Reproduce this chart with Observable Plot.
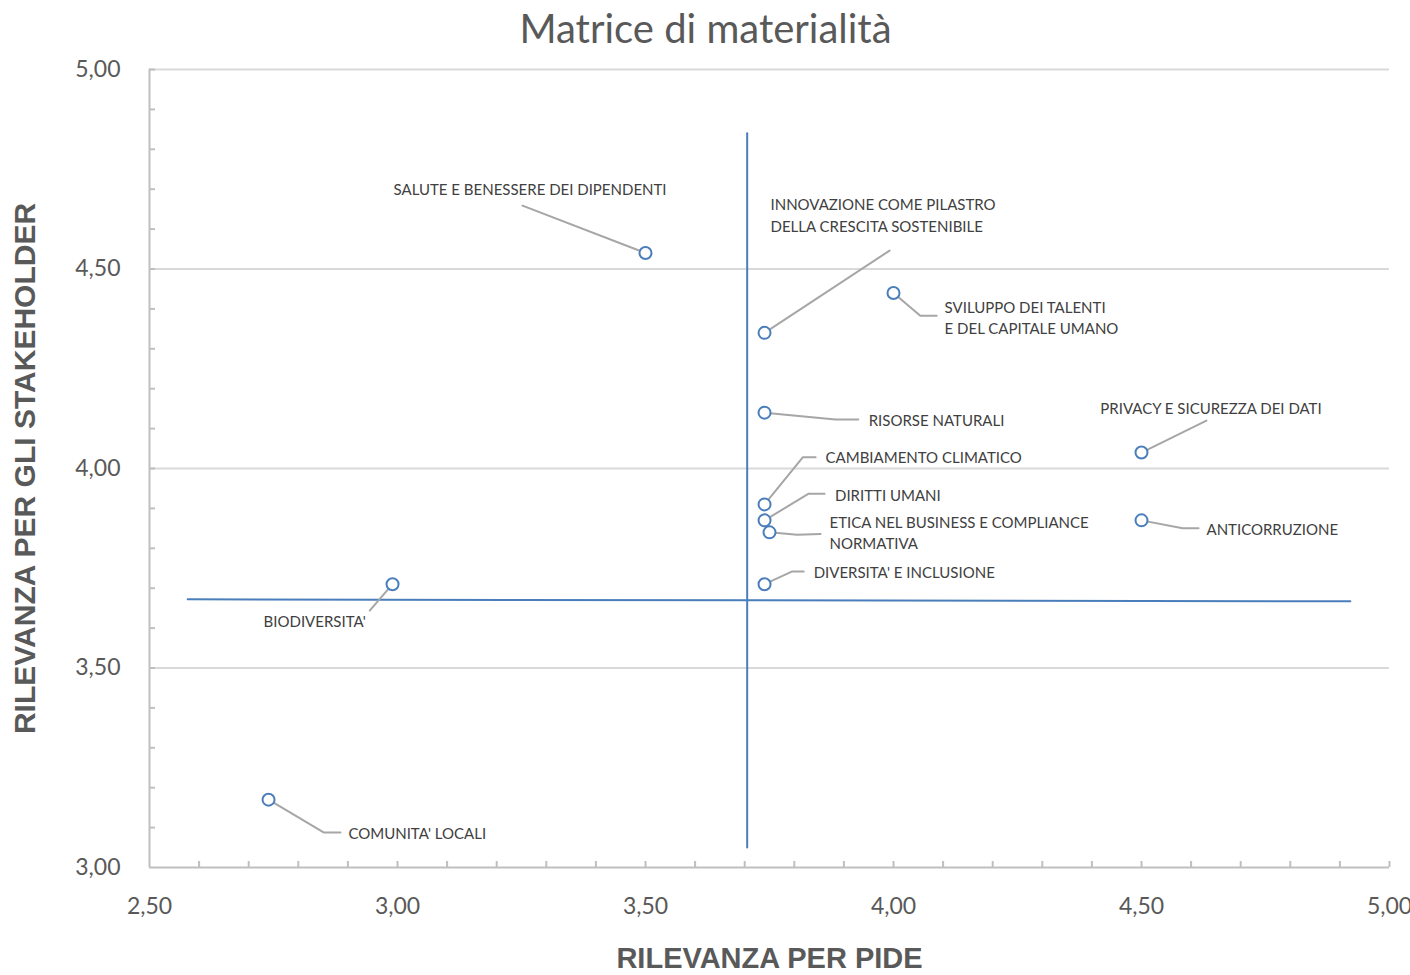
<!DOCTYPE html>
<html>
<head>
<meta charset="utf-8">
<script src="https://cdn.jsdelivr.net/npm/d3@7"></script>
<script src="https://cdn.jsdelivr.net/npm/@observablehq/plot@0.6"></script>
<style>
  html, body { margin: 0; padding: 0; background: #fff; overflow: hidden; }
  #chart { width: 1410px; height: 975px; overflow: hidden; }
</style>
</head>
<body>
<div id="chart"></div>
<script>
// ---- data ----
const topics = [
  "SALUTE E BENESSERE DEI DIPENDENTI",
  "INNOVAZIONE COME PILASTRO\nDELLA CRESCITA SOSTENIBILE",
  "SVILUPPO DEI TALENTI\nE DEL CAPITALE UMANO",
  "RISORSE NATURALI",
  "PRIVACY E SICUREZZA DEI DATI",
  "CAMBIAMENTO CLIMATICO",
  "DIRITTI UMANI",
  "ETICA NEL BUSINESS E COMPLIANCE\nNORMATIVA",
  "ANTICORRUZIONE",
  "DIVERSITA' E INCLUSIONE",
  "BIODIVERSITA'",
  "COMUNITA' LOCALI"
];
const rilevanzaPIDE = [3.50, 3.74, 4.00, 3.74, 4.50, 3.74, 3.74, 3.75, 4.50, 3.74, 2.99, 2.74];
const rilevanzaStakeholder = [4.54, 4.34, 4.44, 4.14, 4.04, 3.91, 3.87, 3.84, 3.87, 3.71, 3.71, 3.17];

// label anchor (data units) for each topic
const labelX = [2.992, 3.752, 4.103, 3.950, 4.417, 3.863, 3.882, 3.871, 4.631, 3.839, 2.730, 2.901];
const labelY = [4.702, 4.637, 4.381, 4.123, 4.153, 4.030, 3.937, 3.842, 3.852, 3.744, 3.619, 3.088];

// leader line bend/end points (data units), after the topic's point
const leaderPts = [
  [[3.252, 4.659]],
  [[3.992, 4.546]],
  [[4.054, 4.383], [4.087, 4.383]],
  [[3.883, 4.123], [3.929, 4.123]],
  [[4.631, 4.120]],
  [[3.817, 4.028], [3.843, 4.028]],
  [[3.829, 3.937], [3.861, 3.937]],
  [[3.806, 3.834], [3.853, 3.836]],
  [[4.583, 3.850], [4.615, 3.850]],
  [[3.796, 3.742], [3.819, 3.742]],
  [[2.944, 3.644]],
  [[2.851, 3.088], [2.885, 3.088]]
];

// quadrant dividers
const dividerX = 3.705;
const dividerXYRange = [3.05, 4.84];
const dividerYLeft = [2.577, 3.672];
const dividerYRight = [4.921, 3.667];

const xTicks = [2.5, 3.0, 3.5, 4.0, 4.5, 5.0];
const yTicks = [3.0, 3.5, 4.0, 4.5, 5.0];
const xMinor = d3.range(26, 51).map(d => d / 10);
const yMinor = d3.range(31, 51).map(d => d / 10);

const title = "Matrice di materialità";
const xTitle = "RILEVANZA PER PIDE";
const yTitle = "RILEVANZA PER GLI STAKEHOLDER";

// ---- derived tables ----
const points = topics.map((t, i) => ({name: t, x: rilevanzaPIDE[i], y: rilevanzaStakeholder[i]}));
const labels = topics.map((t, i) => ({name: t, x: labelX[i], y: labelY[i]}));
const leaders = [];
topics.forEach((t, i) => {
  leaders.push({id: i, x: rilevanzaPIDE[i], y: rilevanzaStakeholder[i]});
  leaderPts[i].forEach(([x, y]) => leaders.push({id: i, x, y}));
});
const vDivider = [{x: dividerX, y: dividerXYRange[0]}, {x: dividerX, y: dividerXYRange[1]}];
const hDivider = [{x: dividerYLeft[0], y: dividerYLeft[1]}, {x: dividerYRight[0], y: dividerYRight[1]}];

const fmt = d => d.toFixed(2).replace(".", ",");
const W = 1410, H = 975, mL = 149, mR = 21, mT = 69, mB = 108;
const textGray = "#595959";

const chart = Plot.plot({
  width: W,
  height: H,
  marginLeft: mL,
  marginRight: mR,
  marginTop: mT,
  marginBottom: mB,
  style: {fontFamily: "Lato, 'Open Sans', sans-serif", background: "#fff", overflow: "visible"},
  x: {domain: [2.5, 5.0]},
  y: {domain: [3.0, 5.0]},
  marks: [
    // gridlines
    Plot.ruleY(yTicks.filter(d => d > 3), {stroke: "#d9d9d9", strokeWidth: 2}),
    // axis lines
    Plot.ruleY([3.0], {stroke: "#bfbfbf", strokeWidth: 2}),
    Plot.ruleX([2.5], {stroke: "#bfbfbf", strokeWidth: 2}),
    // minor ticks
    Plot.tickX(xMinor, {x: d => d, stroke: "#bfbfbf", strokeWidth: 2, insetTop: H - mT - mB - 6}),
    Plot.tickY(yMinor, {y: d => d, stroke: "#bfbfbf", strokeWidth: 2, insetRight: W - mL - mR - 6}),
    // axes labels
    Plot.axisX(xTicks, {tickSize: 0, tickPadding: 30, tickFormat: fmt, fontSize: 23, fill: textGray, label: null, fontFamily: "Lato, sans-serif"}),
    Plot.axisY(yTicks, {tickSize: 0, tickPadding: 29, tickFormat: fmt, fontSize: 23, fill: textGray, label: null, fontFamily: "Lato, sans-serif"}),
    // quadrant dividers
    Plot.line(vDivider, {x: "x", y: "y", stroke: "#4a7ebb", strokeWidth: 2}),
    Plot.line(hDivider, {x: "x", y: "y", stroke: "#4a7ebb", strokeWidth: 2}),
    // leader lines
    Plot.line(leaders, {x: "x", y: "y", z: "id", stroke: "#a6a6a6", strokeWidth: 2, curve: "linear"}),
    // points
    Plot.dot(points, {x: "x", y: "y", r: 6, stroke: "#4a7ebb", strokeWidth: 2, fill: "#fff"}),
    // labels
    Plot.text(labels, {x: "x", y: "y", text: "name", textAnchor: "start", lineAnchor: "middle",
      fontSize: 15, fill: "#404040", lineHeight: 1.45, fontFamily: "Lato, sans-serif", letterSpacing: "-0.3px"}),
    // titles
    Plot.text([title], {frameAnchor: "top", lineAnchor: "middle", dx: -64, dy: -39, fontSize: 40, fill: textGray, fontFamily: "Lato, sans-serif"}),
    Plot.text([xTitle], {frameAnchor: "bottom", lineAnchor: "middle", dy: 91, fontSize: 29, fontWeight: "bold", fill: textGray, fontFamily: "'Liberation Sans', Arial, sans-serif"}),
    Plot.text([yTitle], {frameAnchor: "left", dx: -124, rotate: -90, textAnchor: "middle", fontSize: 30, fontWeight: "bold", fill: textGray, fontFamily: "'Liberation Sans', Arial, sans-serif"})
  ]
});
document.getElementById("chart").appendChild(chart);
</script>
</body>
</html>
